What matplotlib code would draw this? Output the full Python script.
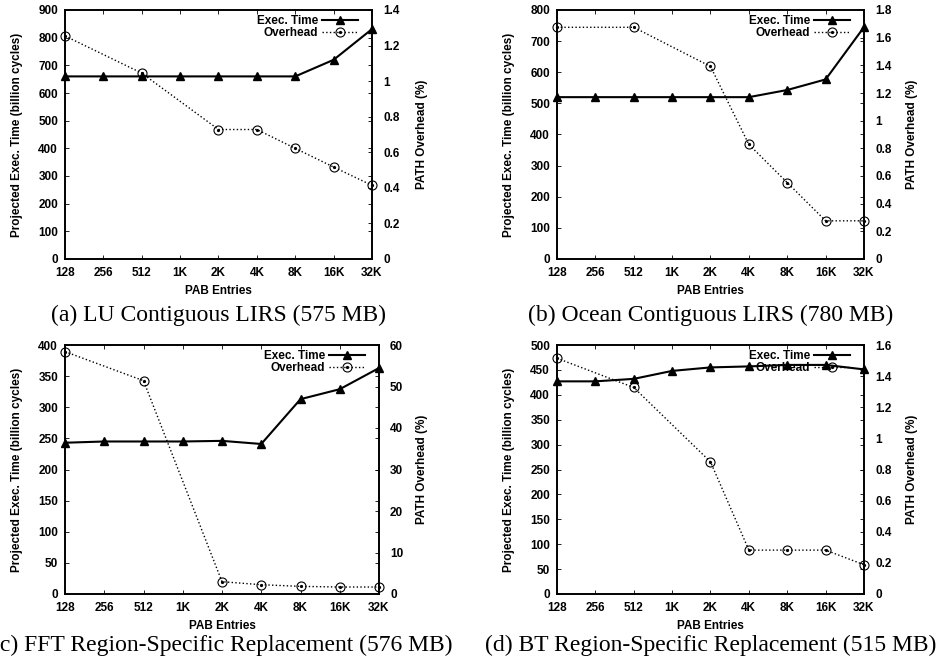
import matplotlib
matplotlib.use("Agg")
import matplotlib.pyplot as plt
from matplotlib.ticker import MultipleLocator, FormatStrFormatter
from matplotlib.legend_handler import HandlerTuple

# PAB sizes on the x axis
entries = ["128", "256", "512", "1K", "2K", "4K", "8K", "16K", "32K"]
# overhead was only reported for these sizes
overhead_entries = ["128", "512", "2K", "4K", "8K", "16K", "32K"]

lu_exec = [660, 660, 660, 660, 660, 660, 660, 720, 831]
lu_overhead = [1.254, 1.045, 0.728, 0.728, 0.622, 0.517, 0.414]

ocean_exec = [520, 520, 520, 520, 520, 520, 543, 577, 745]
ocean_overhead = [1.675, 1.675, 1.392, 0.828, 0.552, 0.276, 0.276]

fft_exec = [243, 245, 245, 245, 246, 241, 313, 329, 363]
fft_overhead = [58.4, 51.4, 2.96, 2.24, 1.84, 1.68, 1.68]

bt_exec = [427, 427, 432, 448, 455, 457, 460, 460, 451]
bt_overhead = [1.515, 1.327, 0.849, 0.282, 0.282, 0.282, 0.188]

SANS = "Liberation Sans"
SERIF = "Liberation Serif"
FS = 8.5
W, H = 937, 663


def draw_panel(fig, box, exec_vals, ovh_vals, ymax, ystep, y2max, y2step, caption, cap_y):
    # box is (left, top, right, bottom) in pixels
    left, top, right, bottom = box
    wpx, hpx = right - left, bottom - top
    ax = fig.add_axes([left / W, 1 - bottom / H, wpx / W, hpx / H])
    ax2 = ax.twinx()

    x = list(range(len(entries)))
    xo = [entries.index(e) for e in overhead_entries]

    l1, = ax.plot(x, exec_vals, "-", color="black", lw=1.5, marker="^", ms=6,
                  clip_on=False, zorder=3)
    l2, = ax2.plot(xo, ovh_vals, ":", color="black", lw=1.0, marker="o", ms=6.5,
                   mfc="none", mec="black", mew=0.8, clip_on=False, zorder=3)
    dot, = ax2.plot(xo, ovh_vals, ls="none", color="black", marker="o", ms=1.3,
                    clip_on=False, zorder=4)

    ax.set_xlim(0, len(entries) - 1)
    ax.set_ylim(0, ymax)
    ax2.set_ylim(0, y2max)
    ax.yaxis.set_major_locator(MultipleLocator(ystep))
    ax2.yaxis.set_major_locator(MultipleLocator(y2step))
    ax.yaxis.set_major_formatter(FormatStrFormatter("%g"))
    ax2.yaxis.set_major_formatter(FormatStrFormatter("%g"))
    ax.set_xticks(x)
    ax.set_xticklabels(entries)

    for a in (ax, ax2):
        for s in a.spines.values():
            s.set_linewidth(1.2)
        for lab in a.get_xticklabels() + a.get_yticklabels():
            lab.set_fontfamily(SANS)
            lab.set_fontweight("bold")
            lab.set_fontsize(FS)
    ax.tick_params(direction="in", length=3, width=0.6, top=True, right=True)
    ax.tick_params(axis="x", pad=6)
    ax.tick_params(axis="y", pad=5)
    ax2.tick_params(direction="in", length=3, width=0.6, pad=8)

    ax.set_xlabel("PAB Entries", fontfamily=SANS, fontweight="bold", fontsize=FS, labelpad=4)
    ax.set_ylabel("Projected Exec. Time (billion cycles)", fontfamily=SANS,
                  fontweight="bold", fontsize=FS)
    ax2.set_ylabel("PATH Overhead (%)", fontfamily=SANS, fontweight="bold", fontsize=FS)
    left_lab = 17 if left < 400 else 509
    right_lab = 422 if left < 400 else 912
    ax.yaxis.set_label_coords((left_lab - left) / wpx, 0.5)
    ax.yaxis.label.set_va("center")
    ax2.yaxis.set_label_coords((right_lab - left) / wpx, 0.5)
    ax2.yaxis.label.set_va("center")

    ax2.legend(handles=[l1, (l2, dot)], labels=["Exec. Time", "Overhead"],
               handler_map={tuple: HandlerTuple(ndivide=1, pad=0)},
               loc="upper right", bbox_to_anchor=(1 - 12 / wpx, 1 - 3 / hpx),
               markerfirst=False, frameon=False,
               handlelength=3.0, handletextpad=0.35, labelspacing=0.0,
               borderaxespad=0.0, borderpad=0.2,
               prop={"family": SANS, "weight": "bold", "size": FS})

    cx = (left + right) / 2 / W
    fig.text(cx, 1 - cap_y / H, caption, ha="center", va="center",
             fontfamily=SERIF, fontsize=17)
    return ax, ax2


fig = plt.figure(figsize=(W / 100, H / 100), dpi=100)

draw_panel(fig, (65, 10, 372, 259), lu_exec, lu_overhead, 900, 100, 1.4, 0.2,
           "(a) LU Contiguous LIRS (575 MB)", 315)
draw_panel(fig, (557, 10, 864, 259), ocean_exec, ocean_overhead, 800, 100, 1.8, 0.2,
           "(b) Ocean Contiguous LIRS (780 MB)", 315)
draw_panel(fig, (65, 345, 379, 594), fft_exec, fft_overhead, 400, 50, 60, 10,
           "(c) FFT Region-Specific Replacement (576 MB)", 645)
draw_panel(fig, (557, 345, 864, 594), bt_exec, bt_overhead, 500, 50, 1.6, 0.2,
           "(d) BT Region-Specific Replacement (515 MB)", 645)

fig.savefig("out.png", dpi=100)
